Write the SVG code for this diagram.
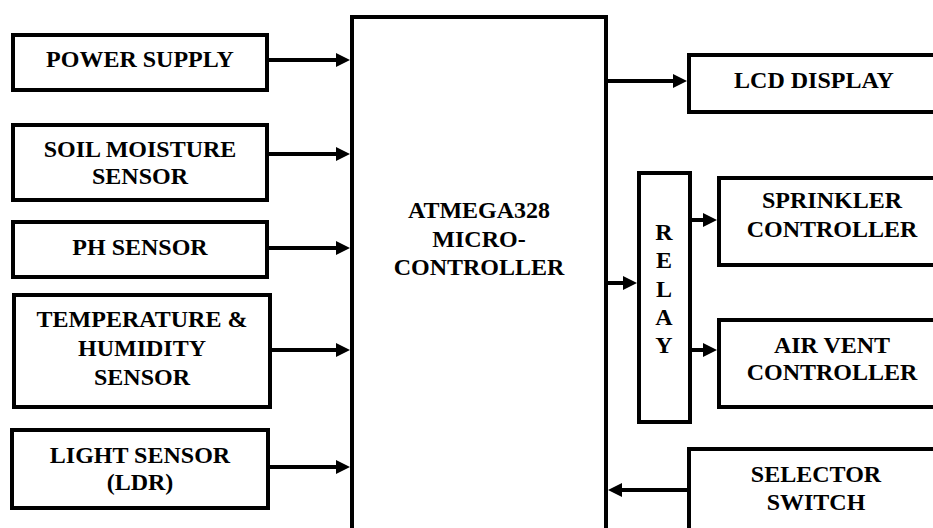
<svg xmlns="http://www.w3.org/2000/svg" width="933" height="528" viewBox="0 0 933 528">
<style>
.box{fill:#fff;stroke:#000;stroke-width:4}
text{font-family:'Liberation Serif','Times New Roman',Times,Tinos,'Nimbus Roman','Nimbus Roman No9 L','Noto Serif','DejaVu Serif',FreeSerif,serif;font-weight:bold;font-size:24px;fill:#000;text-anchor:middle}
.c{stroke:#000;stroke-width:4;fill:none}
</style>
<defs>
<marker id="ah" viewBox="0 0 14 14" refX="4" refY="7" markerWidth="14" markerHeight="14" markerUnits="userSpaceOnUse" orient="auto">
<path d="M0,0 L14,7 L0,14 z" fill="#000"/>
</marker>
</defs>
<g id="power"><rect class="box" x="13" y="35" width="254" height="55"/><text x="140" y="67">POWER SUPPLY</text></g>
<g id="soil"><rect class="box" x="13" y="125" width="254" height="75"/><text x="140" y="157">SOIL MOISTURE</text><text x="140" y="184">SENSOR</text></g>
<g id="ph"><rect class="box" x="13" y="222" width="254" height="55"/><text x="140" y="255">PH SENSOR</text></g>
<g id="temp"><rect class="box" x="14" y="295" width="256" height="112"/><text x="142" y="327">TEMPERATURE &amp;</text><text x="142" y="356">HUMIDITY</text><text x="142" y="385">SENSOR</text></g>
<g id="light"><rect class="box" x="12" y="430" width="256" height="78"/><text x="140" y="463">LIGHT SENSOR</text><text x="140" y="490">(LDR)</text></g>
<g id="mcu"><rect class="box" x="352" y="17" width="254" height="530"/><text x="479" y="218">ATMEGA328</text><text x="479" y="247">MICRO-</text><text x="479" y="275">CONTROLLER</text></g>
<g id="lcd"><rect class="box" x="689" y="55" width="260" height="57"/><text x="814" y="88">LCD DISPLAY</text></g>
<g id="relay"><rect class="box" x="639" y="173" width="51" height="249"/><text x="664" y="240">R</text><text x="664" y="268">E</text><text x="664" y="297">L</text><text x="664" y="325">A</text><text x="664" y="353">Y</text></g>
<g id="sprinkler"><rect class="box" x="719" y="178" width="230" height="87"/><text x="832" y="208">SPRINKLER</text><text x="832" y="237">CONTROLLER</text></g>
<g id="airvent"><rect class="box" x="719" y="320" width="230" height="87"/><text x="832" y="353">AIR VENT</text><text x="832" y="380">CONTROLLER</text></g>
<g id="selector"><rect class="box" x="689" y="449" width="260" height="100"/><text x="816" y="482">SELECTOR</text><text x="816" y="510">SWITCH</text></g>
<g id="connectors">
<line class="c" x1="269" y1="60" x2="340" y2="60" marker-end="url(#ah)"/>
<line class="c" x1="269" y1="154" x2="340" y2="154" marker-end="url(#ah)"/>
<line class="c" x1="269" y1="248" x2="340" y2="248" marker-end="url(#ah)"/>
<line class="c" x1="272" y1="350" x2="340" y2="350" marker-end="url(#ah)"/>
<line class="c" x1="270" y1="467" x2="340" y2="467" marker-end="url(#ah)"/>
<line class="c" x1="608" y1="81" x2="677" y2="81" marker-end="url(#ah)"/>
<line class="c" x1="608" y1="283" x2="627" y2="283" marker-end="url(#ah)"/>
<line class="c" x1="692" y1="220" x2="707" y2="220" marker-end="url(#ah)"/>
<line class="c" x1="692" y1="350" x2="707" y2="350" marker-end="url(#ah)"/>
<line class="c" x1="687" y1="490" x2="618" y2="490" marker-end="url(#ah)"/>
</g>
</svg>
